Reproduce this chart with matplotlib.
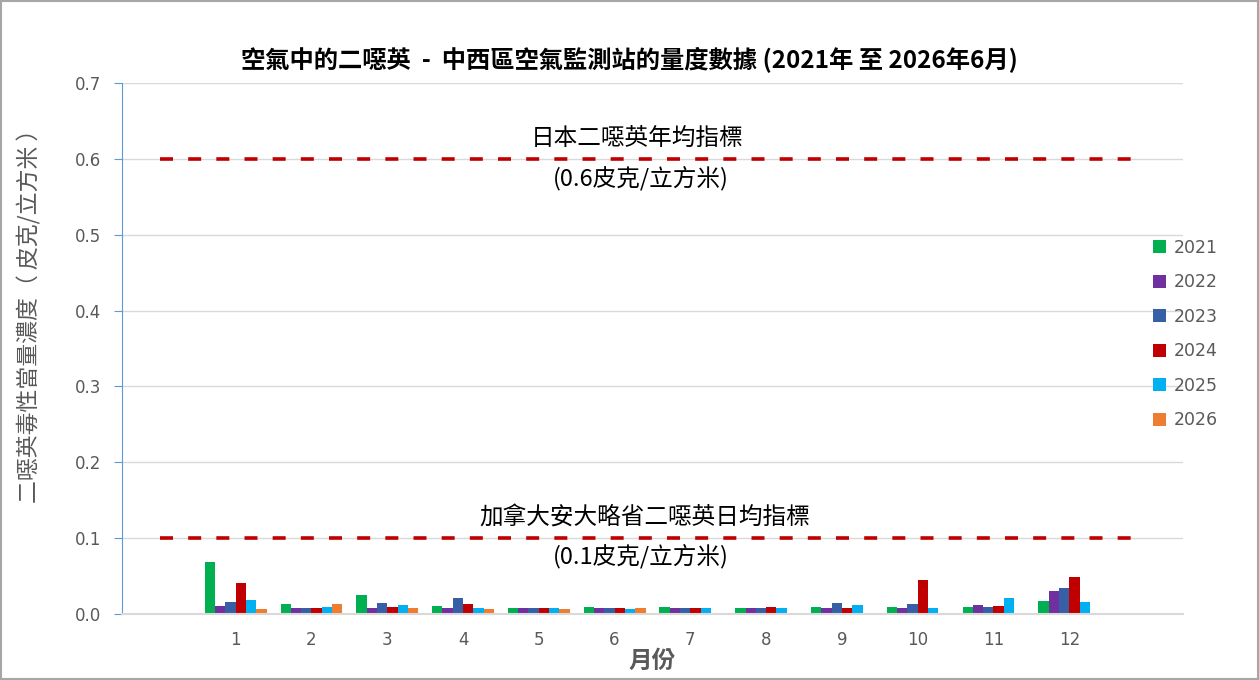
import numpy as np
import matplotlib
matplotlib.use("Agg")
import matplotlib.pyplot as plt
from matplotlib.patches import Rectangle

plt.rcParams['font.family'] = ['Noto Sans CJK TC', 'DejaVu Sans']

# data (pg I-TEQ/m3)
months = np.arange(1, 13)
month_labels = [str(m) for m in months]
years = ['2021', '2022', '2023', '2024', '2025', '2026']
v2021 = [0.068, 0.013, 0.025, 0.011, 0.008, 0.009, 0.009, 0.008, 0.009, 0.009, 0.009, 0.017]
v2022 = [0.011, 0.008, 0.008, 0.008, 0.008, 0.008, 0.008, 0.008, 0.008, 0.008, 0.012, 0.030]
v2023 = [0.016, 0.008, 0.015, 0.021, 0.008, 0.008, 0.008, 0.008, 0.015, 0.013, 0.009, 0.034]
v2024 = [0.041, 0.008, 0.009, 0.013, 0.008, 0.008, 0.008, 0.009, 0.008, 0.045, 0.011, 0.049]
v2025 = [0.018, 0.009, 0.012, 0.008, 0.008, 0.007, 0.008, 0.008, 0.012, 0.008, 0.021, 0.016]
v2026 = [0.007, 0.013, 0.008, 0.007, 0.007, 0.008, np.nan, np.nan, np.nan, np.nan, np.nan, np.nan]
series = [v2021, v2022, v2023, v2024, v2025, v2026]
colors = ['#00B050', '#7030A0', '#365FA5', '#C00000', '#00B0F0', '#ED7D31']

japan_limit = 0.6
ontario_limit = 0.1

fig = plt.figure(figsize=(12.59, 6.80), dpi=100)
ax = fig.add_axes([0.0969, 0.0971, 0.8427, 0.7809])

width = 0.136
for i, (vals, c, yr) in enumerate(zip(series, colors, years)):
    offset = (i - 2.5) * width
    ax.bar(months + offset, vals, width=width, color=c, label=yr)

# guideline lines
ax.plot([0, 13], [japan_limit, japan_limit], color='#C00000', lw=2.6,
        dashes=(3.6, 4.2), zorder=3)
ax.plot([0, 13], [ontario_limit, ontario_limit], color='#C00000', lw=2.6,
        dashes=(3.6, 4.2), zorder=3)

ax.text(6.3, 0.627, '日本二噁英年均指標', ha='center', va='center', fontsize=17)
ax.text(6.35, 0.574, '(0.6皮克/立方米)', ha='center', va='center', fontsize=17)
ax.text(6.4, 0.128, '加拿大安大略省二噁英日均指標', ha='center', va='center', fontsize=17)
ax.text(6.35, 0.076, '(0.1皮克/立方米)', ha='center', va='center', fontsize=17)

ax.set_xlim(-0.5, 13.5)
ax.set_ylim(0, 0.7)
ax.set_xticks(months)
ax.set_xticklabels(month_labels)
ax.set_yticks(np.arange(0, 0.71, 0.1))
ax.yaxis.set_major_formatter(plt.FuncFormatter(lambda v, p: f'{v:.1f}'))
ax.tick_params(axis='x', length=0, pad=12, labelsize=12, labelcolor='#595959')
ax.tick_params(axis='y', length=6, color='#5B9BD5', pad=9, labelsize=12,
               labelcolor='#595959')
for lbl in ax.get_yticklabels():
    lbl.set_family(['DejaVu Sans'])
for lbl in ax.get_xticklabels():
    lbl.set_family(['DejaVu Sans'])

ax.grid(axis='y', color='#D9D9D9', lw=1)
ax.set_axisbelow(True)
for s in ['top', 'right']:
    ax.spines[s].set_visible(False)
ax.spines['left'].set_color('#5B9BD5')
ax.spines['bottom'].set_color('#D9D9D9')
ax.spines['bottom'].set_linewidth(1.5)

fig.text(0.5, 0.912, '空氣中的二噁英  -  中西區空氣監測站的量度數據 (2021年 至 2026年6月)',
         fontsize=17.5, fontweight='bold', ha='center', va='center')
ax.set_xlabel('月份', fontsize=17, fontweight='bold', color='#595959', labelpad=0)
ax.set_ylabel('二噁英毒性當量濃度（ 皮克/立方米 ）', fontsize=16.5,
              fontweight='medium', color='#595959')
ax.yaxis.set_label_coords(-0.076, 0.572)

leg = ax.legend(loc='center left', bbox_to_anchor=(0.972, 0.527), frameon=False,
                fontsize=12.5, handlelength=0.75, handleheight=0.75,
                handletextpad=0.45, labelspacing=0.95, borderaxespad=0,
                borderpad=0)
for t in leg.get_texts():
    t.set_color('#595959')
    t.set_family(['DejaVu Sans'])

fig.add_artist(Rectangle((0.0008, 0.0012), 0.9984, 0.9976, transform=fig.transFigure,
                         fill=False, edgecolor='#A6A6A6', lw=1.5))

fig.savefig('out.png', dpi=100)
